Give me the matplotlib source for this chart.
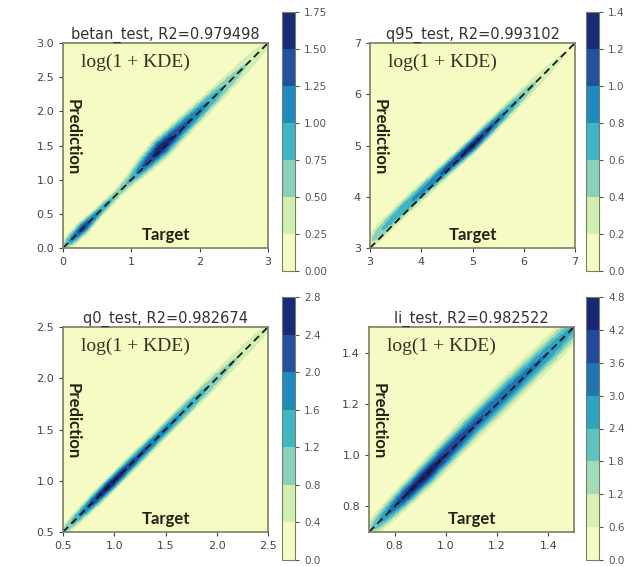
import numpy as np
import matplotlib.pyplot as plt

# panel names and R2 scores
names = ["betan_test", "q95_test", "q0_test", "li_test"]
r2_scores = [0.979498, 0.993102, 0.982674, 0.982522]

# axis ranges and ticks
limits = [(0.0, 3.0), (3.0, 7.0), (0.5, 2.5), (0.7, 1.5)]
xticks = [[0, 1, 2, 3], [3, 4, 5, 6, 7], [0.5, 1.0, 1.5, 2.0, 2.5], [0.8, 1.0, 1.2, 1.4]]
yticks = [[0.0, 0.5, 1.0, 1.5, 2.0, 2.5, 3.0], [3, 4, 5, 6, 7],
          [0.5, 1.0, 1.5, 2.0, 2.5], [0.8, 1.0, 1.2, 1.4]]
cbar_levels = [[0.0, 0.25, 0.5, 0.75, 1.0, 1.25, 1.5, 1.75],
               [0.0, 0.2, 0.4, 0.6, 0.8, 1.0, 1.2, 1.4],
               [0.0, 0.4, 0.8, 1.2, 1.6, 2.0, 2.4, 2.8],
               [0.0, 0.6, 1.2, 1.8, 2.4, 3.0, 3.6, 4.2, 4.8]]

# ridge of log(1 + KDE) read along the diagonal: position, peak height,
# spread across the diagonal and shift of prediction above target
ridge_pos = [
    [0.0, 0.1, 0.3, 0.5, 0.8, 1.0, 1.2, 1.45, 1.7, 2.0, 2.3, 2.6, 2.9, 3.0],
    [3.0, 3.3, 3.7, 4.2, 4.6, 5.0, 5.3, 5.6, 6.0, 6.4, 7.0],
    [0.5, 0.6, 0.8, 0.95, 1.2, 1.5, 1.8, 2.1, 2.5],
    [0.7, 0.75, 0.85, 0.92, 1.0, 1.1, 1.25, 1.4, 1.5],
]
ridge_peak = [
    [0.3, 1.0, 1.45, 1.05, 0.65, 0.8, 1.3, 1.7, 1.4, 1.15, 0.8, 0.55, 0.35, 0.2],
    [0.3, 0.6, 0.75, 0.9, 1.1, 1.32, 1.1, 0.85, 0.55, 0.3, 0.15],
    [0.8, 1.3, 2.3, 2.7, 2.2, 1.8, 1.4, 0.9, 0.5],
    [1.5, 2.6, 4.3, 4.6, 4.2, 3.7, 3.4, 3.0, 2.4],
]
ridge_width = [
    [0.07, 0.07, 0.075, 0.06, 0.06, 0.08, 0.1, 0.12, 0.11, 0.1, 0.1, 0.1, 0.1, 0.1],
    [0.12, 0.12, 0.12, 0.11, 0.1, 0.1, 0.1, 0.1, 0.1, 0.11, 0.11],
    [0.045, 0.045, 0.048, 0.05, 0.05, 0.05, 0.055, 0.058, 0.06],
    [0.027, 0.028, 0.03, 0.032, 0.034, 0.036, 0.038, 0.038, 0.038],
]
ridge_shift = [
    [0.0, 0.0, 0.0, 0.0, 0.0, 0.01, 0.02, 0.03, 0.02, 0.01, 0.0, 0.0, 0.0, 0.0],
    [0.1, 0.12, 0.12, 0.08, 0.04, 0.0, 0.0, 0.0, 0.0, 0.0, 0.0],
    [0.0, 0.0, 0.0, 0.0, 0.0, 0.0, 0.0, 0.0, 0.0],
    [0.0, 0.0, 0.0, 0.0, 0.004, 0.008, 0.006, 0.0, 0.0],
]

# axes placement in pixels (left, top) for a 639x567 figure
W, H = 639, 567
ax_px = [(63, 43), (370, 43), (63, 327), (369, 327)]
cb_px = [(282, 12, 271), (586, 12, 271), (282, 297, 560), (586, 297, 560)]
ax_size = 205

fig = plt.figure(figsize=(W / 100, H / 100), dpi=100)

spine_col = "#7d7d62"
for i in range(4):
    lo, hi = limits[i]
    l, t = ax_px[i]
    ax = fig.add_axes([l / W, (H - t - ax_size) / H, ax_size / W, ax_size / H])

    g = np.linspace(lo, hi, 400)
    X, Y = np.meshgrid(g, g)
    s = (X + Y) / 2
    peak = np.interp(s, ridge_pos[i], ridge_peak[i])
    wid = np.interp(s, ridge_pos[i], ridge_width[i])
    sh = np.interp(s, ridge_pos[i], ridge_shift[i])
    Z = peak * np.exp(-0.5 * ((Y - X - sh) / wid) ** 2)

    cf = ax.contourf(X, Y, Z, levels=cbar_levels[i], cmap="YlGnBu")
    ax.plot([lo, hi], [lo, hi], linestyle=(0, (4, 2.5)), color="#1a1a10", lw=1.3)

    ax.set_xlim(lo, hi)
    ax.set_ylim(lo, hi)
    ax.set_xticks(xticks[i])
    ax.set_yticks(yticks[i])
    ax.tick_params(labelsize=8, colors="#444444", length=3)
    for sp in ax.spines.values():
        sp.set_color(spine_col)
        sp.set_linewidth(1.2)
    ax.set_title(f"{names[i]}, R2={r2_scores[i]:.6f}", fontsize=10.5, pad=2, color="#333333")

    ax.text(0.09, 0.95, "log(1 + KDE)", transform=ax.transAxes, ha="left", va="top",
            family="Liberation Serif", fontsize=14, color="#333322")
    ax.text(0.045, 0.54, "Prediction", transform=ax.transAxes, ha="center", va="center",
            rotation=270, family="Lato", fontweight="bold", fontsize=12, color="#222211")
    ax.text(0.5, 0.025, "Target", transform=ax.transAxes, ha="center", va="bottom",
            family="Lato", fontweight="bold", fontsize=12, color="#222211")

    cl, ct, cbt = cb_px[i]
    cax = fig.add_axes([cl / W, (H - cbt) / H, 13 / W, (cbt - ct) / H])
    cb = fig.colorbar(cf, cax=cax, ticks=cbar_levels[i])
    cb.ax.tick_params(labelsize=7.5, colors="#555555", length=3)
    cb.outline.set_edgecolor(spine_col)
    if i == 0:
        cb.ax.set_yticklabels([f"{v:.2f}" for v in cbar_levels[i]])
    else:
        cb.ax.set_yticklabels([f"{v:.1f}" for v in cbar_levels[i]])

fig.savefig("out.png", dpi=100)
